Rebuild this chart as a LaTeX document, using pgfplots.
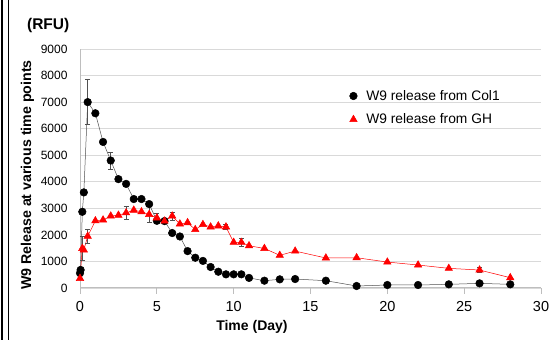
\documentclass[border=0pt]{standalone}
\usepackage{pgfplots}
\pgfplotsset{compat=1.18}
\usepackage{pgfplotstable}
\usepackage{fontspec}
\setmainfont{Liberation Sans}
\definecolor{gridgray}{RGB}{217,217,217}
\definecolor{axgray}{RGB}{190,190,190}
\definecolor{linegray}{RGB}{80,80,80}

\pgfplotstableread{
t y e
0 560 0
0.04 680 0
0.15 2870 0
0.25 3600 0
0.5 7000 850
1 6580 0
1.5 5500 100
2 4800 330
2.5 4100 0
3 3920 0
3.5 3350 0
4 3350 0
4.5 3160 0
5 2530 0
5.5 2520 0
6 2070 0
6.5 1940 0
7 1390 0
7.5 1140 0
8 1020 0
8.5 790 0
9 613 0
9.5 515 0
10 515 0
10.5 515 0
11 380 0
12 275 0
13 326 0
14 338 0
16 275 0
18 75 0
20 113 0
22 113 0
24 138 0
26 175 0
28 138 0
}\colone

\pgfplotstableread{
t y e
0 363 0
0.15 1490 450
0.25 1430 0
0.5 1950 280
1 2530 0
1.5 2560 0
2 2710 0
2.5 2740 0
3 2830 240
3.5 2930 0
4 2870 0
4.5 2770 300
5 2640 190
5.5 2520 0
6 2710 150
6.5 2410 0
7 2460 0
7.5 2200 0
8 2390 0
8.5 2300 0
9 2340 0
9.5 2300 100
10 1720 0
10.5 1720 150
11 1590 0
12 1490 0
13 1230 0
14 1390 0
16 1130 0
18 1140 0
20 977 0
22 865 0
24 740 0
26 677 100
28 388 0
}\gh

\begin{document}
\begin{tikzpicture}
\useasboundingbox (0,0) rectangle (555pt,340pt);
\draw[line width=2pt] (2pt,0) -- (2pt,340pt);
\draw[line width=0.8pt] (8.8pt,0) -- (8.8pt,340pt);
\begin{axis}[
  at={(80pt,52pt)}, anchor=south west,
  scale only axis, width=461pt, height=239pt,
  xmin=0, xmax=30, ymin=0, ymax=9000,
  axis x line=bottom, axis y line=left,
  axis line style={axgray, line width=1pt, -},
  xtick={0,5,...,30}, ytick={0,1000,...,9000},
  ymajorgrids, grid style={gridgray, line width=0.9pt},
  tick align=outside, major tick length=6pt,
  xtick style={axgray, line width=1pt},
  ytick style={draw=none},
  /pgf/number format/assume math mode=true,
  /pgf/number format/1000 sep={},
  xticklabel style={font=\fontsize{14.5}{16}\selectfont, yshift=-4pt},
  yticklabel style={font=\fontsize{12}{14}\selectfont, xshift=-3pt},
  xlabel={\textbf{Time (Day)}},
  xlabel style={font=\fontsize{14}{16}\selectfont, at={(axis description cs:0.373,-0.163)}, anchor=center},
  ylabel={\textbf{W9 Release at various time points}},
  ylabel style={font=\fontsize{14.2}{16}\selectfont, at={(axis description cs:-0.114,0.473)}, anchor=center, rotate=0},
  legend style={draw=none, fill=none, at={(axis description cs:0.578,0.845)}, anchor=north west,
     font=\fontsize{13.8}{16}\selectfont, row sep=8pt,
     /tikz/every odd column/.append style={column sep=7pt}},
  legend cell align=left,
  legend image code/.code={\draw[#1] plot coordinates {(0pt,0pt)};},
  clip=false,
]
\addplot[linegray, line width=0.5pt, mark=*, mark size=3.8pt,
  mark options={fill=black, draw=black},
  error bars/.cd, y dir=both, y explicit,
  error bar style={linegray, line width=0.5pt}, error mark options={rotate=90, mark size=2.5pt, linegray}]
  table[x=t, y=y, y error=e] {\colone};
\addplot[red, line width=0.5pt, mark=triangle*, mark size=4.3pt,
  mark options={fill=red, draw=red},
  error bars/.cd, y dir=both, y explicit,
  error bar style={linegray, line width=0.5pt}, error mark options={rotate=90, mark size=2.5pt, linegray}]
  table[x=t, y=y, y error=e] {\gh};
\legend{W9 release from Col1, W9 release from GH}
\node[font=\fontsize{15.5}{18}\selectfont\bfseries] at (axis description cs:-0.069,1.10) {(RFU)};
\end{axis}
\end{tikzpicture}
\end{document}
